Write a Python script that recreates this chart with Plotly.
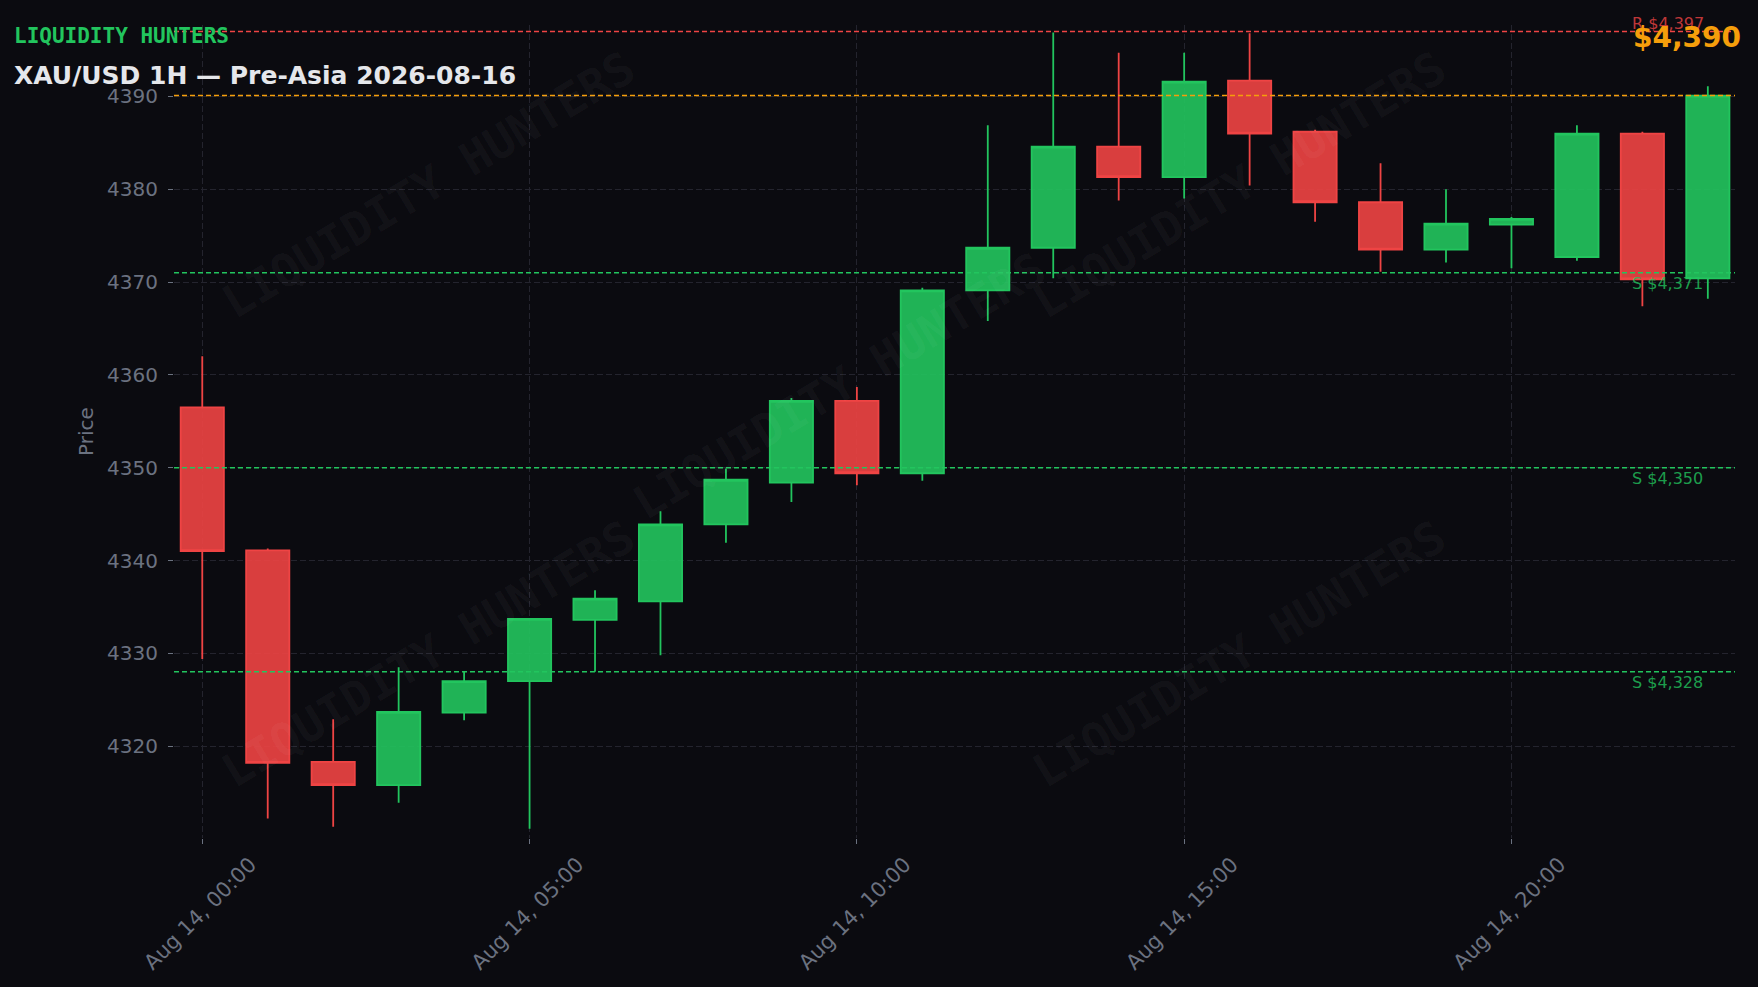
import plotly.graph_objects as go

# ---------------- data ----------------
times = [f"2026-08-14 {h:02d}:00" for h in range(24)]
opens = [4356.5, 4341.1, 4318.3, 4315.8, 4323.6, 4327.0, 4333.6, 4335.6, 4343.9, 4348.4, 4357.2, 4349.4,
         4369.1, 4373.7, 4384.6, 4381.3, 4391.7, 4386.2, 4378.6, 4373.5, 4376.2, 4372.7, 4386.0, 4370.4]
highs = [4362.0, 4341.3, 4322.9, 4328.5, 4328.1, 4333.8, 4336.8, 4345.3, 4349.9, 4357.5, 4358.7, 4369.4,
         4386.9, 4396.9, 4394.7, 4394.7, 4396.8, 4386.4, 4382.8, 4380.0, 4377.0, 4386.9, 4386.2, 4391.1]
lows = [4329.4, 4312.2, 4311.3, 4313.9, 4322.8, 4311.1, 4328.0, 4329.8, 4341.9, 4346.3, 4348.1, 4348.6,
        4365.8, 4370.4, 4378.8, 4379.0, 4380.4, 4376.5, 4371.1, 4372.1, 4371.5, 4372.3, 4367.4, 4368.2]
closes = [4341.0, 4318.2, 4315.8, 4323.7, 4327.0, 4333.7, 4335.9, 4343.9, 4348.7, 4357.2, 4349.4, 4369.1,
          4373.7, 4384.6, 4381.3, 4391.6, 4386.0, 4378.6, 4373.5, 4376.3, 4376.8, 4386.0, 4370.3, 4390.1]
resistances = [4397]
supports = [4371, 4350, 4328]
brand = "LIQUIDITY HUNTERS"
title = "XAU/USD 1H — Pre-Asia 2026-08-16"
y_ticks = [4320, 4330, 4340, 4350, 4360, 4370, 4380, 4390]

# ---------------- style ----------------
W, H = 1758, 987
ML, MR, MT, MB = 174, 23, 25, 147
BG = "#0b0b10"
GREEN = "#22c55e"
RED = "#ef4444"
ORANGE = "#f59e0b"
GRAY = "#6b7280"
GRID = "#24242e"
FONT = "DejaVu Sans"
MONO = "DejaVu Sans Mono"

pw = W - ML - MR
ph = H - MT - MB


def px_x(x):
    return (x - ML) / pw


def px_y(y):
    return 1 - (y - MT) / ph


fig = go.Figure()
fig.add_trace(go.Candlestick(
    x=times, open=opens, high=highs, low=lows, close=closes,
    increasing=dict(line=dict(color=GREEN, width=1.8), fillcolor="rgba(34,197,94,0.9)"),
    decreasing=dict(line=dict(color=RED, width=1.8), fillcolor="rgba(239,68,68,0.9)"),
    hoverinfo="skip", showlegend=False,
))

shapes = []
annotations = []

# watermarks
for cx, cy in [(428, 185), (1239, 185), (839, 387), (428, 656), (1239, 656)]:
    annotations.append(dict(
        text=brand, xref="paper", yref="paper", x=px_x(cx), y=px_y(cy),
        xanchor="center", yanchor="middle", showarrow=False, textangle=-31,
        font=dict(family=MONO, size=46, color="rgba(255,255,255,0.045)", weight="bold"),
    ))

# level lines
for r in resistances:
    shapes.append(dict(type="line", xref="paper", x0=0, x1=1, yref="y", y0=r, y1=r,
                       line=dict(color=RED, width=1.5, dash="5px,3px"), layer="above"))
    annotations.append(dict(text=f"R ${r:,.0f}", xref="paper", x=px_x(1630), yref="y", y=r,
                            xanchor="left", yanchor="bottom", showarrow=False, yshift=-3,
                            font=dict(family=FONT, size=16, color="rgba(239,68,68,0.8)")))
for s in supports:
    shapes.append(dict(type="line", xref="paper", x0=0, x1=1, yref="y", y0=s, y1=s,
                       line=dict(color=GREEN, width=1.5, dash="5px,3px"), layer="above"))
    annotations.append(dict(text=f"S ${s:,.0f}", xref="paper", x=px_x(1630), yref="y", y=s,
                            xanchor="left", yanchor="top", showarrow=False, yshift=1,
                            font=dict(family=FONT, size=16, color="rgba(34,197,94,0.8)")))

last = closes[-1]
shapes.append(dict(type="line", xref="paper", x0=0, x1=1, yref="y", y0=last, y1=last,
                   line=dict(color=ORANGE, width=1.5, dash="5px,3px"), layer="above"))
annotations.append(dict(text=f"${last:,.0f}", xref="paper", x=px_x(1743), yref="paper", y=px_y(38),
                        xanchor="right", yanchor="middle", showarrow=False,
                        font=dict(family=FONT, size=28, color=ORANGE, weight="bold")))

# header texts
annotations.append(dict(text=brand, xref="paper", x=px_x(12), yref="paper", y=px_y(36),
                        xanchor="left", yanchor="middle", showarrow=False,
                        font=dict(family=MONO, size=21, color=GREEN, weight="bold")))
annotations.append(dict(text=title, xref="paper", x=px_x(12), yref="paper", y=px_y(76),
                        xanchor="left", yanchor="middle", showarrow=False,
                        font=dict(family=FONT, size=25, color="#e5e7eb", weight="bold")))

fig.update_layout(
    width=W, height=H,
    margin=dict(l=ML, r=MR, t=MT, b=MB, pad=0),
    paper_bgcolor=BG, plot_bgcolor=BG,
    font=dict(family=FONT, color=GRAY),
    shapes=shapes, annotations=annotations,
    showlegend=False,
    boxgap=0.34, boxgroupgap=0,
)
fig.update_xaxes(
    type="date", range=["2026-08-13 23:34:05", "2026-08-14 23:24:54"],
    rangeslider=dict(visible=False),
    tick0="2026-08-14 00:00", dtick=5 * 3600 * 1000, tickformat="%b %d, %H:%M",
    tickangle=-45, tickfont=dict(family=FONT, size=21, color=GRAY),
    ticks="outside", ticklen=5, tickcolor=GRAY, tickwidth=1.2,
    ticklabelshift=48, ticklabelstandoff=0,
    showgrid=True, gridcolor=GRID, griddash="6px,3px", gridwidth=1,
    showline=False, zeroline=False,
)
fig.update_yaxes(
    range=[4310.1, 4397.7], tickmode="array", tickvals=y_ticks,
    tickfont=dict(family=FONT, size=20, color=GRAY),
    ticks="outside", ticklen=5, tickcolor=GRAY, tickwidth=1.2, ticklabelstandoff=6,
    showgrid=True, gridcolor=GRID, griddash="6px,3px", gridwidth=1,
    showline=False, zeroline=False,
    title=dict(text="Price", font=dict(family=FONT, size=20, color=GRAY), standoff=8),
)

fig.write_html(
    "out.html",
    config={"displayModeBar": False},
    post_script="document.body.style.margin='0';document.body.style.background='" + BG + "';"
                "document.documentElement.style.overflow='hidden';",
)
